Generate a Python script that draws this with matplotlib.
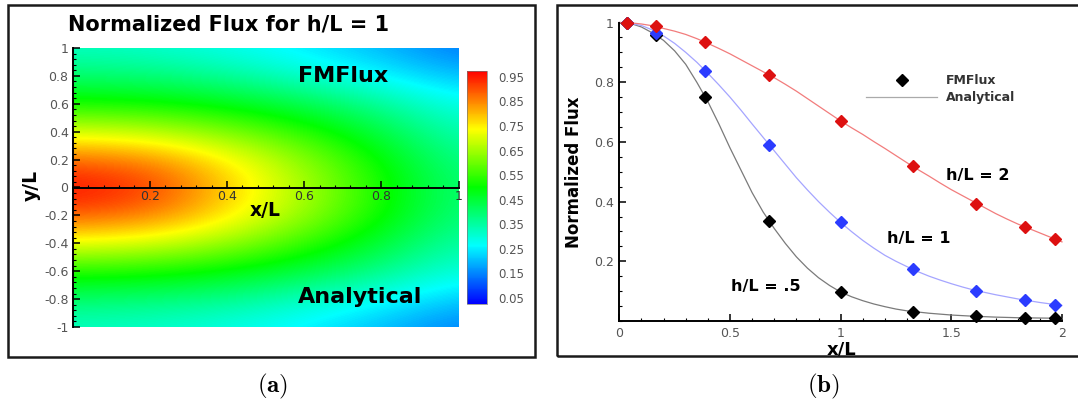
import numpy as np
import matplotlib
matplotlib.use("Agg")
import matplotlib.pyplot as plt
from matplotlib.colors import LinearSegmentedColormap, Normalize
from matplotlib.ticker import MultipleLocator, FixedLocator, FuncFormatter
from matplotlib.patches import Rectangle
from matplotlib.lines import Line2D

plt.rcParams["font.family"] = ["DejaVu Sans"]
plt.rcParams["mathtext.fontset"] = "cm"
plt.rcParams["axes.unicode_minus"] = False

# ---------------- data ----------------
# (a) normalized flux field for h/L = 1, sampled every 0.2 in x/L and |y/L|
grid_x = [0.0, 0.2, 0.4, 0.6, 0.8, 1.0]
grid_abs_y = [0.0, 0.2, 0.4, 0.6, 0.8, 1.0]
# upper half (y >= 0): FMFlux, rows follow grid_abs_y
fmflux_field = [
    [0.97, 0.93, 0.79, 0.66, 0.52, 0.39],
    [0.88, 0.85, 0.75, 0.63, 0.50, 0.37],
    [0.70, 0.68, 0.62, 0.54, 0.44, 0.33],
    [0.52, 0.51, 0.48, 0.43, 0.36, 0.28],
    [0.40, 0.39, 0.36, 0.31, 0.26, 0.20],
    [0.32, 0.31, 0.28, 0.245, 0.195, 0.135],
]
# lower half (y <= 0): analytical, rows follow grid_abs_y
analytical_field = [
    [0.97, 0.93, 0.79, 0.66, 0.52, 0.39],
    [0.89, 0.86, 0.76, 0.64, 0.51, 0.38],
    [0.72, 0.70, 0.64, 0.55, 0.45, 0.34],
    [0.53, 0.52, 0.49, 0.44, 0.37, 0.29],
    [0.40, 0.39, 0.37, 0.32, 0.27, 0.21],
    [0.32, 0.31, 0.285, 0.25, 0.20, 0.14],
]
cbar_ticks = [0.05, 0.15, 0.25, 0.35, 0.45, 0.55, 0.65, 0.75, 0.85, 0.95]

# (b) flux along x/L for three heights
x_fm = [0.033, 0.167, 0.388, 0.676, 1.0, 1.326, 1.612, 1.834, 1.97]
fm_h05 = [1.0, 0.957, 0.751, 0.335, 0.097, 0.031, 0.016, 0.010, 0.009]
fm_h1 = [1.0, 0.965, 0.836, 0.591, 0.330, 0.175, 0.102, 0.069, 0.054]
fm_h2 = [1.0, 0.987, 0.935, 0.824, 0.671, 0.518, 0.391, 0.316, 0.276]

x_an = [0.00, 0.05, 0.10, 0.15, 0.20, 0.25, 0.30, 0.35, 0.40, 0.45,
        0.50, 0.55, 0.60, 0.65, 0.70, 0.75, 0.80, 0.85, 0.90, 0.95,
        1.00, 1.05, 1.10, 1.15, 1.20, 1.25, 1.30, 1.35, 1.40, 1.45,
        1.50, 1.55, 1.60, 1.65, 1.70, 1.75, 1.80, 1.85, 1.90, 1.95, 2.00]
an_h05 = [1.000, 0.997, 0.985, 0.965, 0.940, 0.905, 0.860, 0.800, 0.735, 0.660,
          0.580, 0.505, 0.430, 0.365, 0.310, 0.260, 0.215, 0.177, 0.145, 0.119,
          0.097, 0.081, 0.068, 0.057, 0.048, 0.040, 0.034, 0.030, 0.026, 0.023,
          0.020, 0.018, 0.016, 0.0145, 0.013, 0.012, 0.011, 0.0105, 0.010, 0.0095, 0.009]
an_h1 = [1.000, 0.997, 0.990, 0.975, 0.955, 0.930, 0.900, 0.867, 0.830, 0.791,
         0.750, 0.706, 0.660, 0.615, 0.570, 0.525, 0.480, 0.439, 0.400, 0.364,
         0.330, 0.299, 0.270, 0.244, 0.220, 0.200, 0.182, 0.165, 0.150, 0.137,
         0.125, 0.114, 0.104, 0.096, 0.088, 0.081, 0.074, 0.068, 0.062, 0.057, 0.052]
an_h2 = [1.000, 0.999, 0.995, 0.989, 0.980, 0.971, 0.960, 0.946, 0.930, 0.913,
         0.895, 0.875, 0.855, 0.835, 0.815, 0.793, 0.770, 0.745, 0.720, 0.695,
         0.670, 0.647, 0.625, 0.601, 0.578, 0.554, 0.530, 0.507, 0.485, 0.462,
         0.440, 0.420, 0.400, 0.380, 0.360, 0.342, 0.325, 0.310, 0.295, 0.280, 0.265]

# ---------------- figure ----------------
W, H = 1078, 401
fig = plt.figure(figsize=(W / 100, H / 100), dpi=100)


def fx(px):
    return px / W


def fy(py):
    return 1 - py / H


def frame(x0, y0, x1, y1):
    fig.add_artist(Rectangle((fx(x0), fy(y1)), fx(x1) - fx(x0), fy(y0) - fy(y1),
                             transform=fig.transFigure, fill=False,
                             lw=1.8, ec="#1a1a1a"))


frame(8, 5, 535, 357)
frame(557, 5, 1090, 356)

tick_grey = "#555555"

# ---------------- (a) contour map ----------------
ax1 = fig.add_axes([fx(72.7), fy(327), fx(458.5) - fx(72.7), fy(48) - fy(327)])
rainbow = LinearSegmentedColormap.from_list(
    "small_rainbow", ["#0000ff", "#00ffff", "#00ff00", "#ffff00", "#ff0000"])
norm = Normalize(vmin=0.025, vmax=0.975)

upper = np.array(fmflux_field)
lower = np.array(analytical_field)
field = np.vstack([lower[:0:-1], upper])   # rows from y/L = -1 to 1
dx = grid_x[1] - grid_x[0]
dy = grid_abs_y[1] - grid_abs_y[0]
im = ax1.imshow(field, origin="lower", cmap=rainbow, norm=norm,
                interpolation="bicubic", aspect="auto",
                extent=(grid_x[0] - dx / 2, grid_x[-1] + dx / 2,
                        -grid_abs_y[-1] - dy / 2, grid_abs_y[-1] + dy / 2))
ax1.set_xlim(0, 1)
ax1.set_ylim(-1, 1)
for s in ("top", "right"):
    ax1.spines[s].set_visible(False)
ax1.spines["bottom"].set_position(("data", 0))
for s in ("bottom", "left"):
    ax1.spines[s].set_linewidth(1.4)
    ax1.spines[s].set_color("black")

ax1.xaxis.set_major_locator(FixedLocator([0.2, 0.4, 0.6, 0.8, 1.0]))
ax1.xaxis.set_minor_locator(MultipleLocator(0.04))
ax1.yaxis.set_major_locator(MultipleLocator(0.2))
ax1.yaxis.set_minor_locator(MultipleLocator(0.04))
fmt = FuncFormatter(lambda v, p: ("%g" % round(v, 2)) if abs(v) > 1e-9 else "0")
ax1.xaxis.set_major_formatter(fmt)
ax1.yaxis.set_major_formatter(fmt)
ax1.tick_params(which="major", direction="in", length=5, width=1.1,
                labelsize=9, labelcolor=tick_grey, pad=3)
ax1.tick_params(which="minor", direction="in", length=2.5, width=0.8)
ax1.tick_params(axis="x", pad=2, labelcolor="#333333")

ax1.text(0.70, 0.80, "FMFlux", fontsize=16, fontweight="bold", ha="center", va="center")
ax1.text(0.745, -0.786, "Analytical", fontsize=16, fontweight="bold", ha="center", va="center")
ax1.text(0.50, -0.163, "x/L", fontsize=13.5, fontweight="bold", ha="center", va="center")
ax1.text(-0.108, 0.509, "y/L", fontsize=13.5, fontweight="bold", ha="center", va="center",
         rotation=90, transform=ax1.transAxes)
fig.text(fx(229), fy(25), "Normalized Flux for h/L = 1", fontsize=15, fontweight="bold",
         ha="center", va="center")

cax = fig.add_axes([fx(466.7), fy(304), fx(487.3) - fx(466.7), fy(70.7) - fy(304)])
cb = fig.colorbar(im, cax=cax, ticks=cbar_ticks)
cb.ax.yaxis.set_major_formatter(FuncFormatter(lambda v, p: "%.2f" % v))
cb.ax.tick_params(length=0, pad=8, labelsize=8.5, labelcolor=tick_grey)
cb.outline.set_linewidth(0.5)
cb.outline.set_edgecolor("#777777")

# ---------------- (b) flux profiles ----------------
ax2 = fig.add_axes([fx(619.3), fy(321), fx(1062) - fx(619.3), fy(22.5) - fy(321)])
series = [
    (an_h05, fm_h05, "#7a7a7a", "#000000"),
    (an_h1, fm_h1, "#a5a5ff", "#2b3cff"),
    (an_h2, fm_h2, "#f27c7c", "#dd1010"),
]
for an, fm, lc, mc in series:
    ax2.plot(x_an, an, color=lc, lw=0.9, clip_on=False, zorder=2)
for an, fm, lc, mc in series:
    ax2.plot(x_fm, fm, ls="none", marker="D", ms=6, color=mc, mec=mc,
             clip_on=False, zorder=3)

ax2.set_xlim(0, 2)
ax2.set_ylim(0, 1)
for s in ("top", "right"):
    ax2.spines[s].set_visible(False)
for s in ("bottom", "left"):
    ax2.spines[s].set_linewidth(1.4)
ax2.xaxis.set_major_locator(MultipleLocator(0.5))
ax2.xaxis.set_minor_locator(MultipleLocator(0.1))
ax2.yaxis.set_major_locator(FixedLocator([0.2, 0.4, 0.6, 0.8, 1.0]))
ax2.yaxis.set_minor_locator(MultipleLocator(0.05))
ax2.xaxis.set_major_formatter(FuncFormatter(lambda v, p: "%g" % v))
ax2.yaxis.set_major_formatter(FuncFormatter(lambda v, p: "%g" % v))
ax2.tick_params(which="major", direction="in", length=5, width=1.1,
                labelsize=9, labelcolor=tick_grey, pad=4)
ax2.tick_params(which="minor", direction="in", length=2.5, width=0.8)

ax2.set_ylabel("Normalized Flux", fontsize=12, fontweight="bold")
ax2.yaxis.set_label_coords(-0.102, 0.499)
ax2.set_xlabel("x/L", fontsize=13, fontweight="bold")
ax2.xaxis.set_label_coords(0.503, -0.094)
ax2.xaxis.label.set_va("center")
ax2.yaxis.label.set_va("center")

ax2.text(1.62, 0.486, "h/L = 2", fontsize=11.5, fontweight="bold", ha="center", va="center")
ax2.text(1.354, 0.278, "h/L = 1", fontsize=11.5, fontweight="bold", ha="center", va="center")
ax2.text(0.663, 0.117, "h/L = .5", fontsize=11.5, fontweight="bold", ha="center", va="center")

handles = [Line2D([], [], ls="none", marker="D", ms=6, color="black"),
           Line2D([], [], color="#aaaaaa", lw=0.9)]
leg = ax2.legend(handles, ["FMFlux", "Analytical"], loc="upper left",
                 bbox_to_anchor=(0.557, 0.826), frameon=False, borderpad=0,
                 borderaxespad=0, handlelength=5.7, handletextpad=0.7,
                 labelspacing=0.3, prop={"size": 9, "weight": "bold"})
for t in leg.get_texts():
    t.set_color("#333333")

fig.text(fx(273), fy(386), r"$\mathbf{(a)}$", fontsize=18, ha="center", va="center")
fig.text(fx(823), fy(386), r"$\mathbf{(b)}$", fontsize=18, ha="center", va="center")

fig.savefig("out.png", dpi=100)
